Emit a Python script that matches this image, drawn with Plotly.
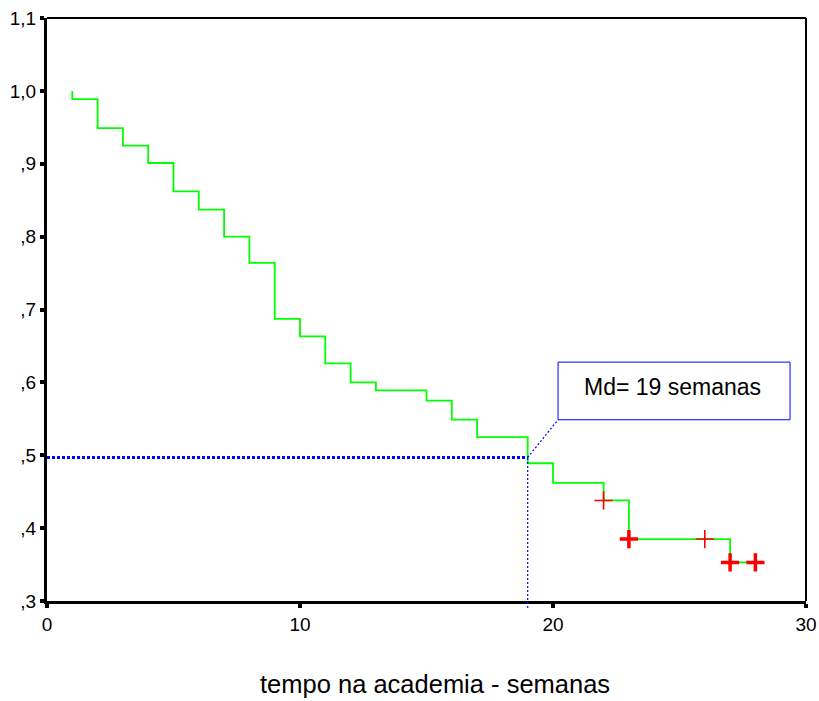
import plotly.graph_objects as go

# Kaplan-Meier estimate: event times (weeks) and survival after each drop
event_times = [1, 2, 3, 4, 5, 6, 7, 8, 9, 10, 11, 12, 13, 15, 16, 17, 19, 20, 22, 23, 27]
survival = [0.9886, 0.949, 0.925, 0.901, 0.862, 0.837, 0.800, 0.764, 0.687, 0.663,
            0.626, 0.600, 0.589, 0.575, 0.549, 0.525, 0.489, 0.462, 0.438, 0.385, 0.353]
last_time = 28

# censored observations (single and multiple)
cens_single_t = [22, 26]
cens_single_s = [0.438, 0.385]
cens_multi_t = [23, 27, 28]
cens_multi_s = [0.385, 0.353, 0.353]

median_weeks = 19
median_level = 0.497

x_ticks = [0, 10, 20, 30]
y_ticks = [1.1, 1.0, 0.9, 0.8, 0.7, 0.6, 0.5, 0.4, 0.3]
y_tick_text = ["1,1", "1,0", ",9", ",8", ",7", ",6", ",5", ",4", ",3"]
x_range = [0, 30]
y_range = [0.3, 1.1]

FONT = "Arial, 'Liberation Sans', sans-serif"
BLUE = "#0000FF"

# plot area in pixels
W, H = 819, 701
L, R, T, B = 47, 13, 18, 100
PW, PH = W - L - R, H - T - B

# step curve starting at 1.0 at the first event time
xs = [event_times[0]] + event_times + [last_time]
ys = [1.0] + survival + [survival[-1]]

fig = go.Figure()
fig.add_trace(go.Scatter(
    x=xs, y=ys, mode="lines", line=dict(color="#00FF00", width=1.8, shape="hv"),
    hoverinfo="skip", showlegend=False))
fig.add_trace(go.Scatter(
    x=cens_single_t, y=cens_single_s, mode="markers",
    marker=dict(symbol="cross-thin", size=13, line=dict(color="#FF0000", width=1.6)),
    hoverinfo="skip", showlegend=False, cliponaxis=False))
fig.add_trace(go.Scatter(
    x=cens_multi_t, y=cens_multi_s, mode="markers",
    marker=dict(symbol="cross-thin", size=13, line=dict(color="#FF0000", width=3.5)),
    hoverinfo="skip", showlegend=False, cliponaxis=False))

def to_paper_y(v):
    return (v - y_range[0]) / (y_range[1] - y_range[0])

# label box for the median
box_x0, box_x1 = 20.2, 29.37
box_y0, box_y1 = 0.5487, 0.6278

shapes = [
    # horizontal median guide
    dict(type="line", xref="x", yref="y", x0=x_range[0], x1=median_weeks,
         y0=median_level, y1=median_level, line=dict(color=BLUE, width=3, dash="3px,2px")),
    # vertical median guide, dropping just below the axis
    dict(type="line", xref="x", yref="paper", x0=median_weeks, x1=median_weeks,
         y0=-0.012, y1=to_paper_y(median_level), line=dict(color=BLUE, width=1.2, dash="2px,2px")),
    # leader to the label box
    dict(type="line", xref="x", yref="y", x0=median_weeks, x1=box_x0,
         y0=median_level, y1=box_y0, line=dict(color=BLUE, width=1.2, dash="2px,2px")),
    dict(type="rect", xref="x", yref="y", x0=box_x0, x1=box_x1, y0=box_y0, y1=box_y1,
         line=dict(color=BLUE, width=1), fillcolor="white"),
    # thinner top and right frame lines
    dict(type="line", xref="paper", yref="paper", x0=0, x1=1, y0=1, y1=1,
         line=dict(color="black", width=2)),
    dict(type="line", xref="paper", yref="paper", x0=1, x1=1, y0=0, y1=1,
         line=dict(color="black", width=2)),
]

fig.update_layout(
    width=W, height=H,
    margin=dict(l=L, r=R, t=T, b=B, autoexpand=False),
    paper_bgcolor="white", plot_bgcolor="white",
    font=dict(family=FONT, size=19, color="black"),
    shapes=shapes,
    annotations=[
        dict(x=(box_x0 + box_x1) / 2 - 0.05, y=(box_y0 + box_y1) / 2 + 0.005, xref="x", yref="y",
             text=f"Md= {median_weeks} semanas", showarrow=False,
             font=dict(family=FONT, size=23, color="black")),
        dict(x=(435 - L) / PW, y=-(684 - (T + PH)) / PH, xref="paper", yref="paper",
             text="tempo na academia - semanas", showarrow=False,
             xanchor="center", yanchor="middle",
             font=dict(family=FONT, size=25.5, color="black")),
    ],
    hovermode=False,
)

fig.update_xaxes(
    range=x_range, tickvals=x_ticks, ticktext=[str(t) for t in x_ticks],
    showgrid=False, zeroline=False, showline=True, linecolor="black", linewidth=3,
    ticks="outside", ticklen=4, tickwidth=4, tickcolor="black", automargin=False,
    tickfont=dict(family=FONT, size=19))
fig.update_yaxes(
    range=y_range, tickvals=y_ticks, ticktext=y_tick_text,
    showgrid=False, zeroline=False, showline=True, linecolor="black", linewidth=3,
    ticks="outside", ticklen=4, tickwidth=4, tickcolor="black", automargin=False,
    tickfont=dict(family=FONT, size=19))

fig.write_html("out.html", config={"displayModeBar": False})
